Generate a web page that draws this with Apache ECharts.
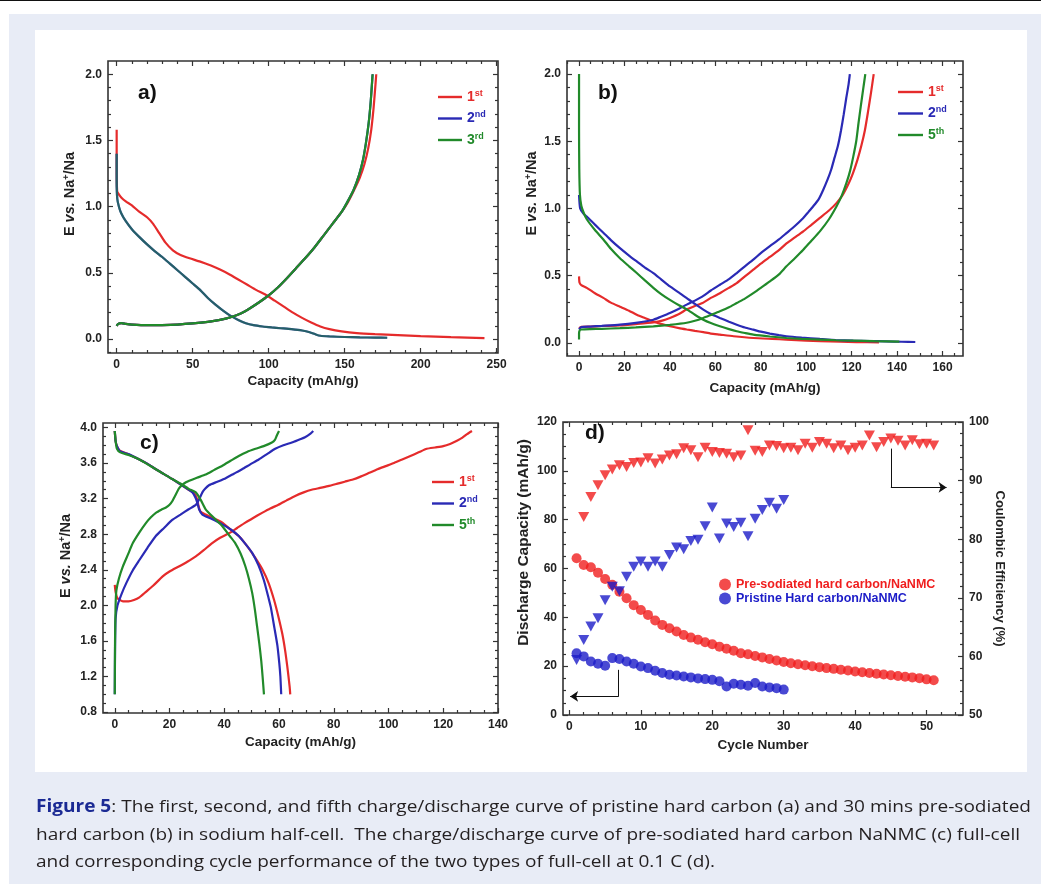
<!DOCTYPE html>
<html>
<head>
<meta charset="utf-8">
<script src="https://cdn.jsdelivr.net/npm/echarts@6/dist/echarts.min.js"></script>
<style>
  html, body { margin: 0; padding: 0; width: 1041px; height: 884px; overflow: hidden; background: #fff; }
  #topline { position: absolute; left: 0; top: 0; width: 1041px; height: 1px; background: #111; }
  #panel { position: absolute; left: 9px; top: 14px; width: 1032px; height: 870px; background: #e8ecf6; }
  #white { position: absolute; left: 35px; top: 30px; width: 992px; height: 742px; background: #fff; }
  #chart { position: absolute; left: 0; top: 0; width: 1041px; height: 884px; }
  #caption { position: absolute; left: 36px; top: 792px; font-family: "Open Sans", "Noto Sans", sans-serif;
             font-size: 17px; line-height: 27.5px; color: #231f20; transform-origin: 0 0; white-space: nowrap; }
  #caption b { color: #1b2a94; }
</style>
</head>
<body>
<div id="topline"></div>
<div id="panel"></div>
<div id="white"></div>
<div id="chart"></div>
<div id="caption">
  <div><span id="l1"><b>Figure 5</b>: The first, second, and fifth charge/discharge curve of pristine hard carbon (a) and 30 mins pre-sodiated</span></div>
  <div>hard carbon (b) in sodium half-cell.&nbsp; The charge/discharge curve of pre-sodiated hard carbon NaNMC (c) full-cell</div>
  <div>and corresponding cycle performance of the two types of full-cell at 0.1 C (d).</div>
</div>
<script>
var FONT = 'Liberation Sans, Arial, Helvetica, sans-serif';
var RED = '#e52b2b', BLUE = '#2a2ab5', GREEN = '#218a2a';
var DRED = '#f01e1e', DBLUE = '#1c1cc8';

// ---- panel a: pristine hard carbon, half-cell ----
var aDis1 = [[0,1.58],[0,1.30],[0.3,1.12],[1,1.10],[3,1.07],[6,1.04],[10,1.01],[15,0.96],[20,0.92],[24,0.87],[28,0.80],[32,0.73],[37,0.67],[42,0.635],[48,0.61],[55,0.585],[62,0.555],[68,0.525],[74,0.49],[80,0.45],[86,0.41],[92,0.37],[98,0.335],[104,0.29],[110,0.245],[116,0.20],[122,0.16],[128,0.125],[134,0.095],[140,0.075],[148,0.058],[158,0.045],[170,0.037],[185,0.03],[200,0.023],[220,0.015],[242,0.008]];
var aChg1 = [[0,0.10],[1,0.115],[3,0.12],[6,0.115],[10,0.11],[20,0.105],[30,0.106],[40,0.11],[50,0.118],[60,0.13],[68,0.145],[75,0.165],[82,0.195],[88,0.235],[94,0.28],[100,0.33],[106,0.39],[112,0.46],[118,0.535],[124,0.61],[130,0.69],[136,0.78],[142,0.87],[148,0.96],[152,1.03],[156,1.12],[160,1.22],[163,1.32],[165.5,1.44],[167.5,1.58],[169,1.74],[170,1.88],[170.8,2.0]];
var aDis2 = [[0,1.40],[0,1.2],[0.4,1.06],[1.5,1.0],[3,0.95],[6,0.89],[10,0.83],[15,0.77],[20,0.715],[25,0.665],[30,0.62],[35,0.57],[40,0.52],[45,0.47],[50,0.42],[55,0.37],[60,0.31],[65,0.26],[70,0.215],[75,0.175],[80,0.145],[85,0.12],[90,0.105],[96,0.095],[102,0.088],[108,0.082],[115,0.075],[122,0.065],[127,0.052],[131,0.035],[134,0.025],[140,0.02],[150,0.016],[160,0.013],[170,0.011],[178,0.01]];
var aChg2 = [[0,0.10],[1,0.115],[3,0.12],[6,0.115],[10,0.11],[20,0.105],[30,0.106],[40,0.11],[50,0.118],[60,0.13],[68,0.145],[75,0.165],[82,0.195],[88,0.235],[94,0.28],[100,0.33],[106,0.39],[112,0.46],[118,0.535],[124,0.61],[130,0.69],[136,0.78],[142,0.87],[148,0.96],[152,1.04],[156,1.13],[159.5,1.24],[162,1.35],[164,1.48],[165.8,1.63],[167.2,1.8],[168.4,2.0]];
var aDis3 = aDis2.slice();
var aChg3 = aChg2.slice();

// ---- panel b: 30 min pre-sodiated hard carbon, half-cell ----
var bDis1 = [[0,0.495],[0.2,0.45],[1,0.43],[3.4,0.41],[7,0.37],[10.7,0.335],[14,0.30],[18,0.27],[22,0.24],[25.4,0.21],[29,0.185],[32.7,0.16],[36,0.142],[40,0.124],[44,0.11],[47.4,0.10],[51,0.09],[54.7,0.08],[58,0.07],[62,0.062],[68,0.05],[76.7,0.037],[85,0.03],[91.3,0.025],[100,0.017],[106,0.013],[115,0.009],[122,0.006],[132,0.005]];
var bChg1 = [[0,0.11],[1,0.12],[5,0.122],[10,0.126],[18,0.13],[25,0.14],[32.7,0.153],[37,0.168],[40,0.186],[44,0.215],[47.4,0.25],[51,0.275],[54.7,0.30],[58,0.335],[62,0.37],[66,0.41],[69.4,0.445],[73,0.495],[76.7,0.545],[80,0.59],[84,0.64],[88,0.69],[91.3,0.74],[95,0.785],[98.7,0.83],[102,0.875],[106,0.93],[110,0.985],[113.3,1.04],[116,1.10],[118.5,1.18],[120.5,1.26],[122.5,1.36],[124.3,1.47],[125.8,1.58],[127.2,1.72],[128.5,1.86],[129.7,2.0]];
var bDis2 = [[0,1.1],[0.5,1.0],[2,0.96],[3.4,0.94],[7,0.88],[10.7,0.82],[14,0.765],[18,0.705],[22,0.65],[25.4,0.606],[29,0.56],[32.7,0.52],[36,0.475],[40,0.42],[44,0.375],[47.4,0.334],[51,0.29],[54.7,0.248],[58,0.215],[62,0.186],[66,0.158],[69.4,0.136],[73,0.115],[76.7,0.099],[80,0.084],[84,0.07],[88,0.058],[91.3,0.05],[98,0.04],[106,0.03],[113,0.022],[120.7,0.017],[128,0.014],[135,0.012],[142,0.009],[148,0.007]];
var bChg2 = [[0,0.10],[1,0.118],[5,0.122],[10,0.127],[18,0.136],[25,0.15],[32.7,0.173],[36,0.195],[40,0.223],[44,0.255],[47.4,0.285],[51,0.315],[54.7,0.35],[58,0.39],[62,0.433],[66,0.475],[69.4,0.52],[73,0.57],[76.7,0.62],[80,0.668],[84,0.72],[88,0.77],[91.3,0.817],[95,0.87],[98.7,0.93],[101,0.975],[103,1.015],[105.5,1.07],[107.5,1.14],[109.5,1.22],[111,1.29],[112.5,1.38],[114,1.47],[115.3,1.58],[116.5,1.70],[117.6,1.82],[118.6,1.92],[119.2,2.0]];
var bDis5 = [[0,2.0],[0,1.6],[0.1,1.3],[0.4,1.1],[1,1.02],[2,0.97],[3.4,0.92],[7,0.84],[10.7,0.77],[14,0.70],[18,0.63],[22,0.57],[25.4,0.52],[29,0.465],[32.7,0.41],[36,0.365],[40,0.32],[44,0.28],[47.4,0.25],[51,0.21],[54.7,0.173],[58,0.148],[62,0.124],[66,0.103],[69.4,0.087],[73,0.074],[76.7,0.062],[84,0.048],[91.3,0.037],[98,0.03],[106,0.025],[113,0.02],[120.7,0.017],[130,0.013],[141,0.01]];
var bChg5 = [[0,0.025],[0,0.07],[0.3,0.095],[1,0.10],[5,0.103],[10,0.105],[18,0.11],[25,0.116],[32.7,0.124],[40,0.135],[47.4,0.15],[51,0.165],[54.7,0.186],[58,0.208],[62,0.235],[66,0.265],[69.4,0.297],[73,0.33],[76.7,0.37],[80,0.41],[84,0.458],[88,0.51],[91.3,0.57],[95,0.63],[98.7,0.693],[102,0.755],[106,0.83],[110,0.92],[113.3,1.015],[115.5,1.09],[117.7,1.19],[119.3,1.28],[120.7,1.386],[122,1.50],[123,1.634],[124,1.76],[125,1.88],[126,2.0]];

// ---- panel c: pre-sodiated hard carbon / NaNMC full-cell ----
var cChg1 = [[0,2.23],[0.3,2.15],[1,2.08],[3,2.045],[5,2.045],[7,2.06],[9,2.09],[11.5,2.155],[14,2.22],[17.5,2.325],[20,2.38],[23.6,2.44],[26.5,2.49],[29.6,2.55],[32.5,2.62],[35.6,2.70],[38.5,2.76],[41.7,2.81],[44.7,2.87],[47.7,2.93],[50.7,2.985],[53.8,3.04],[56.8,3.09],[59.8,3.13],[62.8,3.18],[65.9,3.23],[69,3.27],[71.9,3.30],[75,3.32],[77.9,3.34],[81,3.365],[84,3.39],[87,3.415],[90,3.45],[93,3.49],[96,3.53],[99,3.565],[102,3.60],[105,3.64],[108,3.68],[111,3.72],[114,3.76],[117,3.775],[120,3.79],[122.5,3.815],[125,3.85],[127,3.885],[128.7,3.925],[130.5,3.96]];
var cDis1 = [[0,3.96],[0.3,3.85],[0.8,3.79],[1.8,3.74],[5,3.70],[9,3.64],[12,3.59],[15,3.53],[18,3.475],[21,3.42],[24,3.36],[27,3.30],[29,3.26],[30,3.20],[30.6,3.12],[31.2,3.06],[32.6,3.03],[36,2.98],[39.3,2.93],[42,2.86],[45.3,2.78],[48.5,2.66],[51.4,2.53],[54,2.40],[56.2,2.25],[58.2,2.06],[59.8,1.87],[61.2,1.68],[62.2,1.50],[63,1.32],[63.5,1.19],[63.9,1.08],[64.1,1.0]];
var cChg2 = [[0,1.0],[0.1,1.5],[0.3,1.85],[1,2.0],[2.5,2.13],[4.2,2.25],[6.5,2.39],[9,2.51],[12,2.65],[15,2.78],[18,2.87],[21,2.96],[24,3.02],[27,3.08],[29.6,3.13],[30.8,3.19],[32,3.27],[33,3.31],[34.4,3.35],[37.5,3.39],[40.5,3.43],[43.5,3.48],[46.5,3.53],[49.5,3.585],[52.6,3.64],[55.6,3.70],[58.6,3.76],[61.6,3.80],[64.7,3.83],[67.5,3.865],[69.5,3.89],[71.5,3.93],[72.5,3.96]];
var cDis2 = [[0,3.96],[0.3,3.85],[0.8,3.79],[2,3.73],[5,3.70],[9,3.64],[12,3.59],[15,3.53],[18,3.475],[21,3.42],[24,3.36],[26.5,3.31],[28.4,3.27],[29.5,3.21],[30.2,3.15],[30.8,3.08],[32,3.02],[35.5,2.97],[39.3,2.91],[42.5,2.85],[45.3,2.78],[48,2.68],[50.2,2.59],[52.5,2.45],[54.5,2.28],[56.2,2.08],[57,1.98],[58.3,1.75],[59.4,1.55],[60.1,1.35],[60.5,1.2],[60.8,1.0]];
var cChg5 = [[0,1.0],[0.1,1.6],[0.3,2.0],[0.6,2.17],[1.5,2.3],[3,2.44],[4.8,2.57],[6.6,2.70],[9,2.82],[11.5,2.93],[13.2,2.99],[15,3.04],[17,3.075],[18.7,3.10],[20,3.13],[21,3.17],[22,3.23],[23.6,3.32],[25.3,3.37],[27.2,3.40],[30,3.435],[33.2,3.47],[36.2,3.52],[39.3,3.57],[42.3,3.625],[45.3,3.68],[48.3,3.725],[51.4,3.76],[54.4,3.79],[57.4,3.83],[58.5,3.86],[59.2,3.91],[60,3.96]];
var cDis5 = [[0,3.96],[0.3,3.85],[0.8,3.76],[2,3.72],[5,3.69],[9,3.64],[12,3.585],[15,3.53],[18,3.475],[21,3.42],[24,3.37],[27,3.31],[29.6,3.27],[31.5,3.18],[33.2,3.08],[36,2.99],[39.3,2.89],[42,2.78],[44,2.70],[46,2.58],[47.7,2.44],[49,2.30],[50.2,2.14],[51.2,1.95],[52,1.76],[52.8,1.57],[53.5,1.38],[54,1.2],[54.5,1.0]];

// ---- panel d: cycling of the two full-cells (capacity per cycle from 1, CE) ----
var dPreCap = [64.2,61.4,60.5,58.3,55.7,53.3,50.5,47.8,45,43,41,38.7,36.9,35.5,34.2,32.8,31.7,30.8,29.8,29,28,27.1,26.3,25.3,24.9,24.2,23.6,22.9,22.3,21.7,21.2,20.8,20.4,20.0,19.6,19.2,18.9,18.5,18.2,17.8,17.5,17.2,16.9,16.6,16.3,16.0,15.7,15.4,15.1,14.6,14.2];
var dPreCE = [83.8,87.2,89.2,90.9,91.9,92.6,92.3,93.0,93.1,93.8,92.9,93.6,94.3,94.5,95.5,95.2,94.0,95.6,94.9,94.7,94.6,94.0,94.3,98.6,95.1,94.9,96.0,95.9,95.5,95.6,95.2,96.3,95.6,96.6,96.3,95.5,96.0,95.2,95.6,96.0,97.7,95.7,96.6,97.2,96.8,96.0,96.9,96.2,96.3,96.0]; // from cycle 2
var dPriCap = [25.3,24,21.9,21,20.2,23.3,22.9,21.9,21,19.9,19.2,18.1,17.2,16.5,16.2,15.8,15.4,15,14.7,14.4,13.8,11.7,12.8,12.4,12,13.1,11.7,11.3,11,10.4];
var dPriCE = [59.4,62.8,65.1,66.5,69.6,71.9,71.1,73.6,75.3,76.2,75.3,76.2,75.3,77.3,78.6,78.3,79.7,79.9,82.2,85.4,80.1,82.7,82.1,82.8,80.5,83.5,85.0,86.2,85.2,86.7];
var dArrowLeft = [[6.9,18.5],[6.9,7.6],[0.1,7.6]];
var dArrowRight = [[45.0,109.1],[45.0,93.2],[52.8,93.2]];

// tick labels
var aXTicks = [0,50,100,150,200,250], aYTicks = [0,0.5,1,1.5,2];
var bXTicks = [0,20,40,60,80,100,120,140,160], bYTicks = [0,0.5,1,1.5,2];
var cXTicks = [0,20,40,60,80,100,120,140], cYTicks = [0.8,1.2,1.6,2.0,2.4,2.8,3.2,3.6,4.0];
var dXTicks = [0,10,20,30,40,50], dYTicks = [0,20,40,60,80,100,120], dCETicks = [50,60,70,80,90,100];

function byCycle(vals, first) {
  return vals.map(function (v, i) { return [i + first, v]; });
}
function minors(min, max, step, majors) {
  var out = [];
  for (var v = Math.ceil(min / step - 1e-9) * step; v <= max + 1e-9; v += step) {
    var r = Math.round(v * 1000) / 1000;
    if (r > min && r < max && majors.indexOf(r) < 0) out.push(r);
  }
  return out;
}

var xAxes = [], yAxes = [];
var labelStyle = { color: '#222', fontWeight: 'bold', fontSize: 12, fontFamily: FONT, margin: 6 };
function addAxis(list, grid, pos, min, max, values, len, fmt) {
  var ax = {
    type: 'value', gridIndex: grid, position: pos, min: min, max: max,
    axisLine: { show: false, onZero: false },
    splitLine: { show: false },
    axisTick: { show: true, inside: true, length: len, customValues: values, lineStyle: { color: '#333', width: 1.2 } },
    axisLabel: { show: false }
  };
  if (fmt) ax.axisLabel = Object.assign({ show: true, customValues: values, formatter: fmt }, labelStyle);
  list.push(ax);
  return ax;
}
function f1(v) { return v.toFixed(1); }
function f0(v) { return String(Math.round(v)); }

// builds the framed box with mirrored major/minor ticks; returns the labelled axes
function box(g, xr, yr, xMaj, xStep, yMaj, yStep, fx, fy, mirrorY) {
  var xMin = minors(xr[0], xr[1], xStep, xMaj), yMin = minors(yr[0], yr[1], yStep, yMaj);
  var xa = addAxis(xAxes, g, 'bottom', xr[0], xr[1], xMaj, 5, fx);
  xa.index = xAxes.length - 1;
  addAxis(xAxes, g, 'bottom', xr[0], xr[1], xMin, 3);
  addAxis(xAxes, g, 'top', xr[0], xr[1], xMaj, 5);
  addAxis(xAxes, g, 'top', xr[0], xr[1], xMin, 3);
  var ya = addAxis(yAxes, g, 'left', yr[0], yr[1], yMaj, 5, fy);
  ya.index = yAxes.length - 1;
  addAxis(yAxes, g, 'left', yr[0], yr[1], yMin, 3);
  if (mirrorY) {
    addAxis(yAxes, g, 'right', yr[0], yr[1], yMaj, 5);
    addAxis(yAxes, g, 'right', yr[0], yr[1], yMin, 3);
  }
  return { x: xa, y: ya };
}

var ax = {
  a: box(0, [-5.7, 250.9], [-0.105, 2.1], aXTicks, 10, aYTicks, 0.1, f0, f1, true),
  b: box(1, [-5.3, 169], [-0.097, 2.097], bXTicks, 5, bYTicks, 0.1, f0, f1, true),
  c: box(2, [-4.3, 140], [0.79, 4.05], cXTicks, 5, cYTicks, 0.1, f0, f1, true),
  d: box(3, [-0.9, 55.1], [0, 120], dXTicks, 2, dYTicks, 5, f0, f0, false)
};
var dRight = addAxis(yAxes, 3, 'right', 50, 100, dCETicks, 5, f0);
dRight.index = yAxes.length - 1;
addAxis(yAxes, 3, 'right', 50, 100, minors(50, 100, 2, dCETicks), 3);

var titleStyle = { color: '#222', fontWeight: 'bold', fontSize: 13.5, fontFamily: FONT };
var yRich = {
  i: { fontStyle: 'italic', fontWeight: 'bold', fontSize: 14.5, fontFamily: FONT, color: '#222' },
  sup: { fontWeight: 'bold', fontSize: 9, fontFamily: FONT, color: '#222', verticalAlign: 'top' }
};
function xName(a, gap, text) {
  a.name = text; a.nameLocation = 'middle'; a.nameGap = gap; a.nameTextStyle = titleStyle;
}
function yName(a, gap, text, size, rot, pad) {
  a.name = text; a.nameLocation = 'middle'; a.nameGap = gap; a.nameRotate = rot;
  a.nameTextStyle = Object.assign({}, titleStyle, { fontSize: size, padding: pad, rich: yRich });
}
xName(ax.a.x, 21, 'Capacity (mAh/g)');
xName(ax.b.x, 25, 'Capacity (mAh/g)');
xName(ax.c.x, 22, 'Capacity (mAh/g)');
xName(ax.d.x, 23, 'Cycle Number');
yName(ax.a.y, 31, 'E {i|vs.} Na{sup|+}/Na', 14.5, 90, [0, 0, 0, 26]);
yName(ax.b.y, 28, 'E {i|vs.} Na{sup|+}/Na', 14.5, 90, [0, 0, 0, 30]);
yName(ax.c.y, 30, 'E {i|vs.} Na{sup|+}/Na', 14.5, 90, [0, 0, 0, 24]);
yName(ax.d.y, 31, 'Discharge Capacity (mAh/g)', 15.5, 90, [0, 0, 0, 52]);
yName(dRight, 29, 'Coulombic Efficiency (%)', 13, -90, [0, 0, 0, 0]);

function curve(name, p, data, color, opacity) {
  return {
    name: name, type: 'line', xAxisIndex: ax[p].x.index, yAxisIndex: ax[p].y.index,
    data: data, symbol: 'none', smooth: 0.2, silent: true,
    lineStyle: { color: color, width: 2.2, opacity: opacity || 1 }
  };
}
function dots(name, data, yIdx, color, symbol) {
  return {
    name: name, type: 'scatter', xAxisIndex: ax.d.x.index, yAxisIndex: yIdx,
    data: data, symbol: symbol, symbolSize: symbol === 'circle' ? 10 : [11, 10],
    symbolRotate: symbol === 'circle' ? 0 : 180, silent: true,
    itemStyle: { color: color }
  };
}
// elbow arrow: plain first leg, arrow head on the last leg
function arrowLegs(coords) {
  var base = {
    type: 'lines', coordinateSystem: 'cartesian2d', xAxisIndex: ax.d.x.index, yAxisIndex: ax.d.y.index,
    silent: true, lineStyle: { color: '#111', width: 1, opacity: 1 }
  };
  return [
    Object.assign({ symbol: ['none', 'none'], data: [{ coords: [coords[0], coords[1]] }] }, base),
    Object.assign({ symbol: ['none', 'arrow'], symbolSize: 8, data: [{ coords: [coords[1], coords[2]] }] }, base)
  ];
}

var series = [
  curve('1st', 'a', aDis1, RED), curve('1st', 'a', aChg1, RED),
  curve('2nd', 'a', aDis2, BLUE), curve('2nd', 'a', aChg2, BLUE),
  curve('3rd', 'a', aDis3, GREEN, 0.55), curve('3rd', 'a', aChg3, GREEN),
  curve('1st', 'b', bDis1, RED), curve('1st', 'b', bChg1, RED),
  curve('2nd', 'b', bDis2, BLUE), curve('2nd', 'b', bChg2, BLUE),
  curve('5th', 'b', bDis5, GREEN), curve('5th', 'b', bChg5, GREEN),
  curve('1st', 'c', cChg1, RED), curve('1st', 'c', cDis1, RED),
  curve('2nd', 'c', cChg2, BLUE), curve('2nd', 'c', cDis2, BLUE),
  curve('5th', 'c', cChg5, GREEN), curve('5th', 'c', cDis5, GREEN),
  dots('Pre-sodiated hard carbon/NaNMC', byCycle(dPreCap, 1), ax.d.y.index, DRED, 'circle'),
  dots('Pristine Hard carbon/NaNMC', byCycle(dPriCap, 1), ax.d.y.index, DBLUE, 'circle'),
  dots('Pre-sodiated CE', byCycle(dPreCE, 2), dRight.index, DRED, 'triangle'),
  dots('Pristine CE', byCycle(dPriCE, 1), dRight.index, DBLUE, 'triangle')
].concat(arrowLegs(dArrowLeft), arrowLegs(dArrowRight));

function supFmt(name) {
  var m = name.match(/^(\d)(\D+)$/);
  return '{n|' + m[1] + '}{s|' + m[2] + '}';
}
var supRich = {
  n: { fontSize: 14, fontWeight: 'bold', fontFamily: FONT, lineHeight: 16 },
  s: { fontSize: 9, fontWeight: 'bold', fontFamily: FONT, lineHeight: 16, verticalAlign: 'top' }
};
function cycLegend(names, colors, left, top, w) {
  return {
    orient: 'vertical', left: left, top: top, itemWidth: w, itemHeight: 2.4, itemGap: 6.5,
    padding: 0, selectedMode: false, formatter: supFmt, icon: 'rect',
    textStyle: { fontFamily: FONT, fontWeight: 'bold', rich: supRich },
    data: names.map(function (n, i) {
      return { name: n, icon: 'rect', itemStyle: { color: colors[i], borderWidth: 0 },
               textStyle: { color: colors[i] } };
    })
  };
}

function panelLabel(text, left, top) {
  return { text: text, left: left, top: top, padding: 0,
           textStyle: { fontSize: 21, fontWeight: 'bold', color: '#111', fontFamily: FONT } };
}

var gridBase = { show: true, borderColor: '#333', borderWidth: 1.6, backgroundColor: 'transparent',
                 containLabel: false, outerBoundsMode: 'none' };
var option = {
  animation: false,
  title: [panelLabel('a)', 138, 83), panelLabel('b)', 598, 83), panelLabel('c)', 140, 433), panelLabel('d)', 585, 423)],
  grid: [
    Object.assign({ left: 108, top: 61, width: 390, height: 292 }, gridBase),
    Object.assign({ left: 567, top: 61, width: 396, height: 295 }, gridBase),
    Object.assign({ left: 103, top: 423, width: 395, height: 290 }, gridBase),
    Object.assign({ left: 563, top: 422, width: 400, height: 293 }, gridBase)
  ],
  legend: [
    cycLegend(['1st', '2nd', '3rd'], [RED, BLUE, GREEN], 438, 89, 24),
    cycLegend(['1st', '2nd', '5th'], [RED, BLUE, GREEN], 898, 84, 25),
    cycLegend(['1st', '2nd', '5th'], [RED, BLUE, GREEN], 432, 474, 22),
    {
      orient: 'vertical', left: 719, top: 578, itemWidth: 12, itemHeight: 12, itemGap: 1,
      padding: 0, selectedMode: false, icon: 'circle',
      textStyle: { fontFamily: FONT, fontWeight: 'bold', fontSize: 12.5, lineHeight: 13 },
      data: [
        { name: 'Pre-sodiated hard carbon/NaNMC', itemStyle: { color: DRED }, textStyle: { color: DRED } },
        { name: 'Pristine Hard carbon/NaNMC', itemStyle: { color: DBLUE }, textStyle: { color: DBLUE } }
      ]
    }
  ],
  xAxis: xAxes,
  yAxis: yAxes,
  series: series
};

var chart = echarts.init(document.getElementById('chart'), null, { renderer: 'canvas' });
chart.setOption(option);

// fit the caption lines to the printed width
var cap = document.getElementById('caption');
var w = document.getElementById('l1').getBoundingClientRect().width;
cap.style.transform = 'scaleX(' + (995 / w) + ')';
</script>
</body>
</html>
